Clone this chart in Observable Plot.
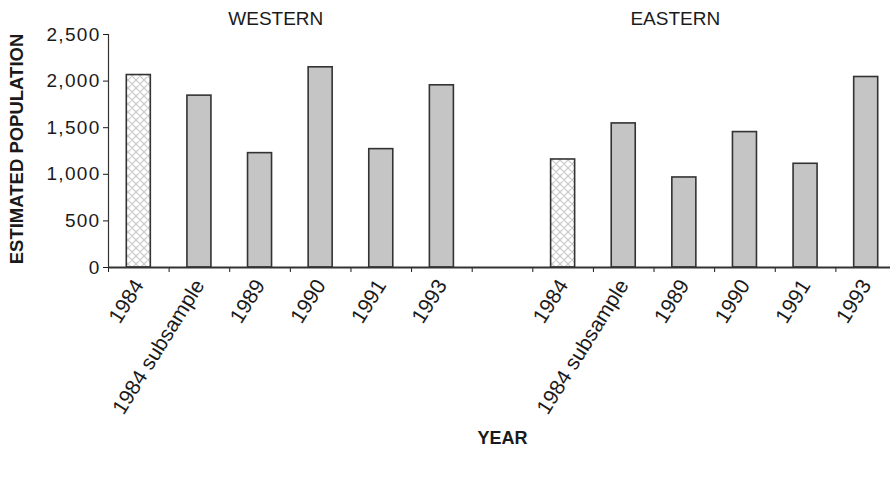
<!DOCTYPE html>
<html>
<head>
<meta charset="utf-8">
<script src="https://cdn.jsdelivr.net/npm/d3@7"></script>
<script src="https://cdn.jsdelivr.net/npm/@observablehq/plot@0.6"></script>
<style>
  html, body { margin: 0; padding: 0; background: #fff; }
  #chart svg { display: block; }
</style>
</head>
<body>
<div id="chart"></div>
<script>
// Data
const regions = ["WESTERN", "EASTERN"];
const years = ["1984", "1984 subsample", "1989", "1990", "1991", "1993"];
const western = [2065, 1844, 1227, 2148, 1270, 1955];
const eastern = [1159, 1546, 966, 1453, 1113, 2044];
const hatchedYear = "1984";
const yTicks = [0, 500, 1000, 1500, 2000, 2500];

// Build rows: western at slots 0-5, gap at 6, eastern at 7-12
const rows = [];
years.forEach((y, k) => rows.push({slot: k, region: regions[0], year: y, value: western[k]}));
years.forEach((y, k) => rows.push({slot: k + 7, region: regions[1], year: y, value: eastern[k]}));
const nSlots = 13;
const labelBySlot = new Map(rows.map(r => [r.slot + 0.5, r.year]));
const titleRows = [
  {region: regions[0], pos: 2.76},
  {region: regions[1], pos: 9.35}
];

const font = "'Liberation Sans', Arial, Helvetica, sans-serif";

const plot = Plot.plot({
  width: 890,
  height: 482,
  marginLeft: 108,
  marginRight: -6,
  marginTop: 34,
  marginBottom: 215,
  style: {fontFamily: font, fontSize: "20px", color: "#1a1a1a", background: "#fff"},
  x: {domain: [0, nSlots], axis: null},
  y: {domain: [0, 2500], axis: null},
  marks: [
    Plot.rectY(rows, {
      x1: "slot",
      x2: d => d.slot + 1,
      y: "value",
      insetLeft: 18.3,
      insetRight: 18.3,
      fill: d => d.year === hatchedYear ? "url(#hatch)" : "#c4c5c4",
      stroke: "#333",
      strokeWidth: 1.6
    }),
    Plot.axisY({ticks: yTicks, tickFormat: d3.format(","), tickSize: 5, tickPadding: 3, label: null, fontSize: 19}),
    Plot.axisX({ticks: d3.range(0, nSlots + 1), tickSize: 5, tickFormat: () => "", label: null}),
    Plot.axisX({ticks: [...labelBySlot.keys()], tickSize: 0, tickPadding: 14, tickRotate: -58,
      tickFormat: d => labelBySlot.get(d), label: null, fontSize: 21}),
    Plot.ruleX([0], {stroke: "#333", strokeWidth: 1.2}),
    Plot.ruleY([0], {stroke: "#333", strokeWidth: 2}),
    Plot.text(titleRows, {x: "pos", text: "region", frameAnchor: "top", dy: -23, fontSize: 19}),
    Plot.text(["ESTIMATED POPULATION"], {frameAnchor: "left", textAnchor: "middle", rotate: -90,
      dx: -91, dy: -2, fontWeight: "bold", fontSize: 18.5}),
    Plot.text(["YEAR"], {frameAnchor: "bottom", dy: 176, fontWeight: "bold", fontSize: 18})
  ]
});

// Crosshatch pattern definition
const svg = d3.select(plot);
const defs = svg.insert("defs", ":first-child");
const pat = defs.append("pattern")
  .attr("id", "hatch")
  .attr("patternUnits", "userSpaceOnUse")
  .attr("width", 8).attr("height", 8);
pat.append("rect").attr("width", 8).attr("height", 8).attr("fill", "#fff");
pat.append("path").attr("d", "M0,0L8,8M8,0L0,8M-1,7L1,9M7,-1L9,1")
  .attr("stroke", "#c6c6c6").attr("stroke-width", 1.1).attr("fill", "none");

// Slightly wider y tick labels, as in the reference
svg.selectAll('g[aria-label="y-axis tick label"] text').style("letter-spacing", "1.3px");

document.getElementById("chart").appendChild(plot);
</script>
</body>
</html>
